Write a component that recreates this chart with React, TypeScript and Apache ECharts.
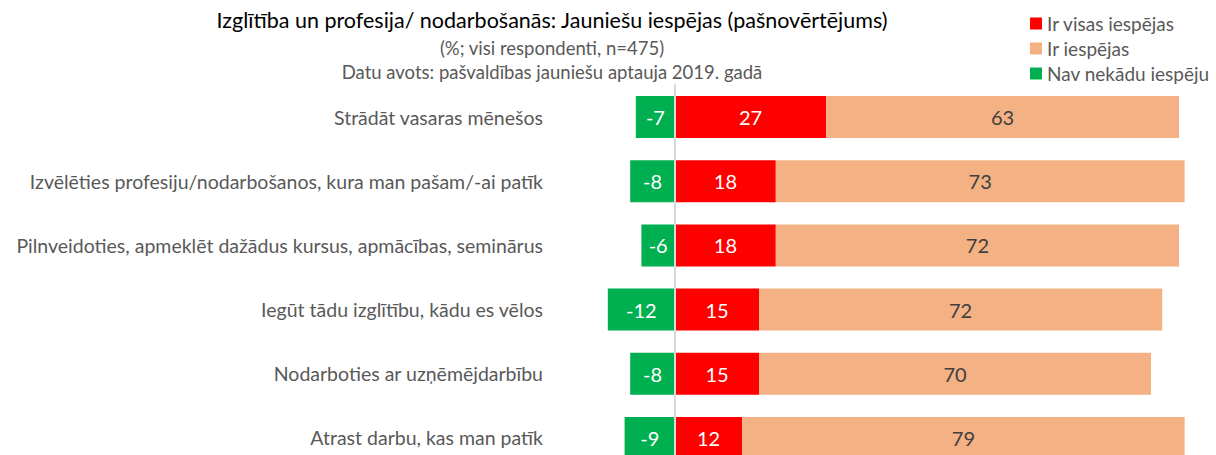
import React, { useEffect, useRef } from "react";
import * as echarts from "echarts";

const categories = [
  "Strādāt vasaras mēnešos",
  "Izvēlēties profesiju/nodarbošanos, kura man pašam/-ai patīk",
  "Pilnveidoties, apmeklēt dažādus kursus, apmācības, seminārus",
  "Iegūt tādu izglītību, kādu es vēlos",
  "Nodarboties ar uzņēmējdarbību",
  "Atrast darbu, kas man patīk",
];
const allOpportunities = [27, 18, 18, 15, 15, 12];
const someOpportunities = [63, 73, 72, 72, 70, 79];
const noOpportunities = [-7, -8, -6, -12, -8, -9];

const FONT = "Lato, 'Open Sans', sans-serif";

export default function App() {
  const ref = useRef<HTMLDivElement>(null);
  useEffect(() => {
    document.body.style.margin = "0";
    if (!ref.current) return;
    const chart = echarts.init(ref.current, undefined, { renderer: "svg" });
    const barLabel = (color: string) => ({
      show: true,
      position: "inside" as const,
      color,
      fontSize: 20,
      fontFamily: FONT,
    });
    chart.setOption({
      animation: false,
      textStyle: { fontFamily: FONT },
      title: {
        text: "Izglītība un profesija/ nodarbošanās: Jauniešu iespējas (pašnovērtējums)",
        subtext: "(%; visi respondenti, n=475)\nDatu avots: pašvaldības jauniešu aptauja 2019. gadā",
        left: 552,
        top: 8,
        padding: 0,
        textAlign: "center",
        itemGap: 4,
        textStyle: { color: "#000", fontSize: 21.5, lineHeight: 24, fontWeight: "normal", fontFamily: FONT },
        subtextStyle: { color: "#595959", fontSize: 18.5, lineHeight: 24, fontFamily: FONT },
      },
      legend: {
        orient: "vertical",
        left: 1030,
        top: 14,
        padding: 0,
        itemWidth: 12,
        itemHeight: 12,
        itemGap: 6,
        icon: "rect",
        textStyle: { color: "#595959", fontSize: 19, lineHeight: 19, fontFamily: FONT },
        data: ["Ir visas iespējas", "Ir iespējas", "Nav nekādu iespēju"],
      },
      grid: {
        left: 563,
        width: 644,
        top: 85,
        height: 385,
        containLabel: false,
        outerBoundsMode: "none",
      },
      xAxis: {
        type: "value",
        min: -20,
        max: 95,
        show: false,
      },
      yAxis: {
        type: "category",
        data: categories,
        inverse: true,
        axisTick: { show: false },
        axisLine: { show: true, lineStyle: { color: "#D9D9D9", width: 2 } },
        axisLabel: { color: "#595959", fontSize: 19.5, margin: 20, fontFamily: FONT },
        z: 10,
      },
      series: [
        {
          name: "Ir visas iespējas",
          type: "bar",
          stack: "total",
          barWidth: 42,
          data: allOpportunities,
          itemStyle: { color: "#FF0000" },
          label: barLabel("#FFFFFF"),
        },
        {
          name: "Ir iespējas",
          type: "bar",
          stack: "total",
          barWidth: 42,
          data: someOpportunities,
          itemStyle: { color: "#F4B183" },
          label: barLabel("#404040"),
        },
        {
          name: "Nav nekādu iespēju",
          type: "bar",
          stack: "total",
          barWidth: 42,
          data: noOpportunities,
          itemStyle: { color: "#00B050" },
          label: barLabel("#FFFFFF"),
        },
      ],
    });
    return () => chart.dispose();
  }, []);
  return <div ref={ref} style={{ width: 1216, height: 455 }} />;
}
